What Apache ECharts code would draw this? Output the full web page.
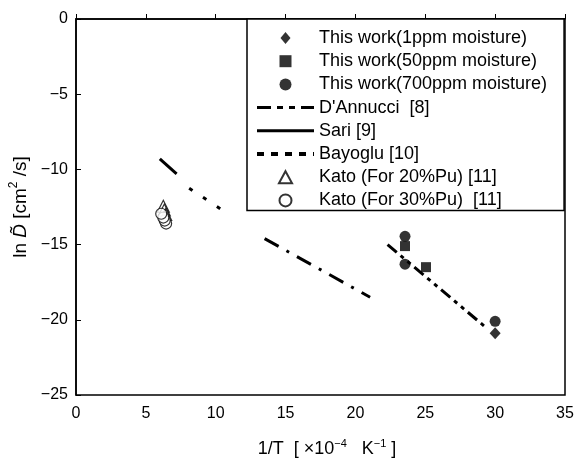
<!DOCTYPE html>
<html><head><meta charset="utf-8">
<script src="https://cdn.jsdelivr.net/npm/echarts@6/dist/echarts.min.js"></script>
<style>html,body{margin:0;padding:0;background:#fff}#c{width:575px;height:459px}</style>
</head><body><div id="c"></div>
<script>
// ---- data ----
const work1ppm   = [[30.0, -20.9]];
const work50ppm  = [[23.55, -15.1], [25.05, -16.5]];
const work700ppm = [[23.55, -14.45], [23.55, -16.3], [30.0, -20.1]];
const dannucci     = [[22.3, -15.0], [29.2, -20.4]];
const dannucciHigh = [[13.5, -14.6], [21.05, -18.5]];
const sari    = [[6.0, -9.3], [7.2, -10.3]];
const bayoglu = [[8.1, -11.25], [10.95, -13.0]];
const kato20  = [[6.25, -12.45], [6.32, -12.7], [6.42, -13.0]];
const kato30  = [[6.45, -13.6], [6.35, -13.4], [6.25, -13.2], [6.1, -12.95]];
const legendNames = ['This work(1ppm moisture)', 'This work(50ppm moisture)', 'This work(700ppm moisture)',
  "D'Annucci  [8]", 'Sari [9]', 'Bayoglu [10]', 'Kato (For 20%Pu) [11]', 'Kato (For 30%Pu)  [11]'];

const FONT = '"Liberation Sans", Arial, sans-serif';
const chart = echarts.init(document.getElementById('c'), null, {renderer: 'canvas'});
const blk = '#000';
function lineSeries(name, data, type) {
  return {name, type: 'line', data, symbol: 'none', showSymbol: false, silent: true,
    lineStyle: {color: blk, width: 3, type, cap: 'butt'},
    itemStyle: {color: 'rgba(0,0,0,0)', borderWidth: 0}};
}
const legendData = [
  {name: legendNames[0], icon: 'path://M5,0L10,6L5,12L0,6Z'},
  {name: legendNames[1], icon: 'path://M0,0H10V10H0Z'},
  {name: legendNames[2], icon: 'circle'},
  {name: legendNames[3], lineStyle: {width: 3, type: [14, 6, 6, 6, 6, 6], color: blk}},
  {name: legendNames[4], lineStyle: {width: 3, type: 'solid', color: blk}},
  {name: legendNames[5], lineStyle: {width: 4, type: [7, 7], color: blk}},
  {name: legendNames[6], icon: 'path://M6,0L12,11L0,11Z'},
  {name: legendNames[7], icon: 'circle'}
];
chart.setOption({
  animation: false,
  backgroundColor: '#fff',
  grid: {left: 76, right: 10, top: 19, bottom: 64, containLabel: false, outerBoundsMode: 'none',
    show: true, borderColor: blk, borderWidth: 1.5, backgroundColor: 'transparent'},
  xAxis: {
    type: 'value', min: 0, max: 35, interval: 5,
    name: '{a|1/T  [ ×10}{s|−4}{a|   K}{s|−1}{a| ]}', nameLocation: 'middle', nameGap: 43,
    nameTextStyle: {padding: [0, 0, 0, 13], rich: {
      a: {fontFamily: FONT, fontSize: 18, color: blk, lineHeight: 20, verticalAlign: 'bottom'},
      s: {fontFamily: FONT, fontSize: 11, color: blk, lineHeight: 20, verticalAlign: 'top'}}},
    axisLine: {show: true, lineStyle: {color: blk, width: 1.5}},
    axisTick: {show: true, inside: true, length: 5, lineStyle: {color: blk, width: 1}},
    axisLabel: {fontFamily: FONT, fontSize: 16, color: blk, margin: 11},
    splitLine: {show: false}
  },
  yAxis: {
    type: 'value', min: -25, max: 0, interval: 5,
    name: '{a|ln }{i|D̃}{a| [cm}{s|2}{a| /s]}', nameLocation: 'middle', nameGap: 34, nameRotate: 90,
    nameTextStyle: {padding: [0, 0, 0, 0], rich: {
      a: {fontFamily: FONT, fontSize: 19, color: blk, lineHeight: 22, verticalAlign: 'bottom'},
      i: {fontFamily: FONT, fontSize: 19, fontStyle: 'italic', color: blk, lineHeight: 22, verticalAlign: 'bottom'},
      s: {fontFamily: FONT, fontSize: 12, color: blk, lineHeight: 22, verticalAlign: 'top'}}},
    axisLine: {show: true, lineStyle: {color: blk, width: 1.5}},
    axisTick: {show: true, inside: true, length: 5, lineStyle: {color: blk, width: 1}},
    axisLabel: {fontFamily: FONT, fontSize: 16, color: blk, margin: 8,
      formatter: v => String(v).replace('-', '−')},
    splitLine: {show: false}
  },
  legend: {
    data: legendData, orient: 'vertical', left: 247, top: 19,
    padding: [10, 17, 1, 8], itemGap: 5.2, itemWidth: 57, itemHeight: 12,
    symbolKeepAspect: true,
    backgroundColor: '#fff', borderColor: blk, borderWidth: 1.5, borderRadius: 0,
    textStyle: {fontFamily: FONT, fontSize: 18, color: blk, lineHeight: 18},
    selectedMode: false
  },
  series: [
    {name: legendNames[0], type: 'scatter', data: work1ppm, symbol: 'diamond', symbolSize: [11, 12], itemStyle: {color: blk}},
    {name: legendNames[1], type: 'scatter', data: work50ppm, symbol: 'rect', symbolSize: 10, itemStyle: {color: blk}},
    {name: legendNames[2], type: 'scatter', data: work700ppm, symbol: 'circle', symbolSize: 11, itemStyle: {color: blk}},
    lineSeries(legendNames[3], dannucci, [12, 5, 4, 5, 4, 5]),
    lineSeries('dannucci-high', dannucciHigh, [16, 9, 3, 9]),
    lineSeries(legendNames[4], sari, 'solid'),
    lineSeries(legendNames[5], bayoglu, [4, 12.6]),
    {name: legendNames[6], type: 'scatter', data: kato20, symbol: 'triangle', symbolSize: 12,
      itemStyle: {color: '#fff', borderColor: blk, borderWidth: 1.2}},
    {name: legendNames[7], type: 'scatter', data: kato30, symbol: 'circle', symbolSize: 11,
      itemStyle: {color: '#fff', borderColor: blk, borderWidth: 1.2}}
  ]
});
</script></body></html>
